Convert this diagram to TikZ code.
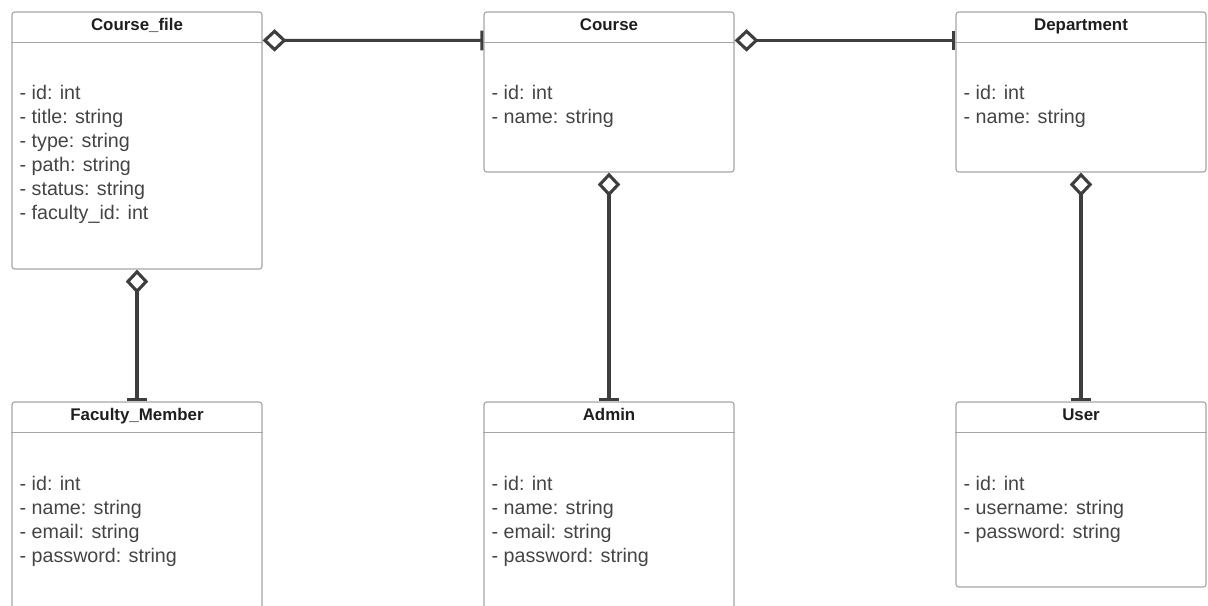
\documentclass[tikz,border=0pt]{standalone}
\usepackage{fontspec}
\setmainfont{Liberation Sans}
\usepackage{xcolor}
\usepackage{tikz}
\usetikzlibrary{arrows.meta, positioning, calc}
\definecolor{boxborder}{RGB}{166,166,166}
\definecolor{linkcolor}{RGB}{62,62,62}
\definecolor{attrtext}{RGB}{68,68,68}
\definecolor{titletext}{RGB}{30,30,30}

\begin{document}
\begin{tikzpicture}[
    x=0.025cm, y=-0.025cm,
    every node/.style={font=\fontsize{14}{17.07}\selectfont},
    classbox/.style={rectangle, draw=boxborder, line width=0.8pt,
                     rounded corners=2pt, minimum width=6.25cm, inner sep=0pt},
    classtitle/.style={anchor=base, text=titletext, inner sep=0pt,
                       font=\bfseries\fontsize{12}{14}\selectfont},
    attrs/.style={anchor=base west, align=left, text=attrtext, inner sep=0pt},
    sepline/.style={draw=boxborder, line width=0.8pt},
    link/.style={draw=linkcolor, line width=2.2pt,
                 {Diamond[open, length=17pt, width=16pt]}-{Bar[width=14pt]}}
]
\useasboundingbox (0,0) rectangle (1208,605);
\clip (0,0) rectangle (1208,605);

% --- Fila 1: clases superiores ---
% (the base of an attrs node is its last line)
\node[classbox, minimum height=6.425cm] (cfile) at (137,140.5) {};
\node[classtitle] (cfileT) at ($(cfile.north)+(0,19)$) {Course\_file};
\draw[sepline] ($(cfile.north west)+(0,31)$) -- ($(cfile.north east)+(0,31)$);
\node[attrs] (cfileA) at ($(cfile.north west)+(8,208)$)
    {- id: int\\- title: string\\- type: string\\- path: string\\- status: string\\- faculty\_id: int};

\node[classbox, minimum height=4cm] (course) at (609,92) {};
\node[classtitle] (courseT) at ($(course.north)+(0,19)$) {Course};
\draw[sepline] ($(course.north west)+(0,31)$) -- ($(course.north east)+(0,31)$);
\node[attrs] (courseA) at ($(course.north west)+(8,112)$) {- id: int\\- name: string};

\node[classbox, minimum height=4cm] (dept) at (1081,92) {};
\node[classtitle] (deptT) at ($(dept.north)+(0,19)$) {Department};
\draw[sepline] ($(dept.north west)+(0,31)$) -- ($(dept.north east)+(0,31)$);
\node[attrs] (deptA) at ($(dept.north west)+(8,112)$) {- id: int\\- name: string};

% --- Fila 2: clases inferiores ---
\node[classbox, minimum height=6.425cm] (faculty) at (137,530.5) {};
\node[classtitle] (facultyT) at ($(faculty.north)+(0,19)$) {Faculty\_Member};
\draw[sepline] ($(faculty.north west)+(0,31)$) -- ($(faculty.north east)+(0,31)$);
\node[attrs] (facultyA) at ($(faculty.north west)+(8,161)$)
    {- id: int\\- name: string\\- email: string\\- password: string};

\node[classbox, minimum height=6.425cm] (admin) at (609,530.5) {};
\node[classtitle] (adminT) at ($(admin.north)+(0,19)$) {Admin};
\draw[sepline] ($(admin.north west)+(0,31)$) -- ($(admin.north east)+(0,31)$);
\node[attrs] (adminA) at ($(admin.north west)+(8,161)$)
    {- id: int\\- name: string\\- email: string\\- password: string};

\node[classbox, minimum height=4.625cm] (user) at (1081,494.5) {};
\node[classtitle] (userT) at ($(user.north)+(0,19)$) {User};
\draw[sepline] ($(user.north west)+(0,31)$) -- ($(user.north east)+(0,31)$);
\node[attrs] (userA) at ($(user.north west)+(8,137)$)
    {- id: int\\- username: string\\- password: string};

% --- Asociaciones ---
\draw[link] ($(cfile.north east)+(0,29)$) -- ($(course.north west)+(0,29)$);
\draw[link] ($(course.north east)+(0,29)$) -- ($(dept.north west)+(0,29)$);
\draw[link] (cfile.south) -- (faculty.north);
\draw[link] (course.south) -- (admin.north);
\draw[link] (dept.south) -- (user.north);
\end{tikzpicture}
\end{document}
